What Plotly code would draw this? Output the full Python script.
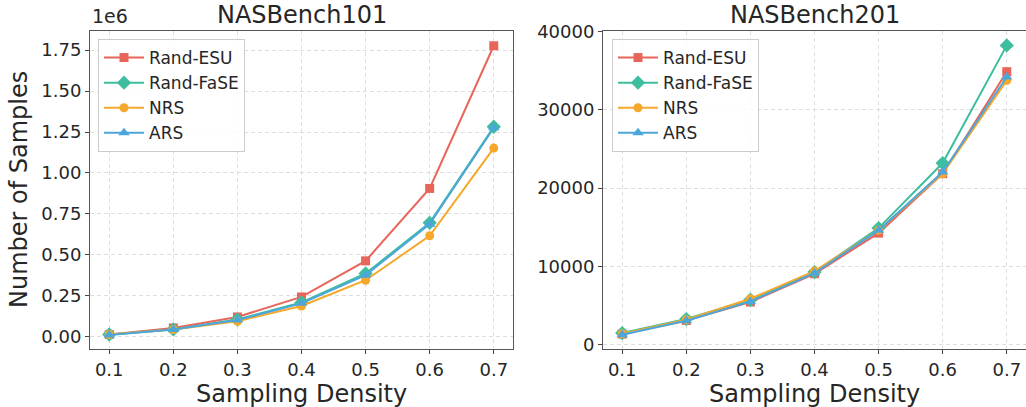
import plotly.graph_objects as go

W, H = 1026, 407

density = [0.1, 0.2, 0.3, 0.4, 0.5, 0.6, 0.7]
series_names = ["Rand-ESU", "Rand-FaSE", "NRS", "ARS"]

# NASBench101 (in units of 1e6)
nb101_esu = [0.015, 0.055, 0.122, 0.244, 0.464, 0.906, 1.776]
nb101_fase = [0.015, 0.046, 0.106, 0.210, 0.387, 0.696, 1.282]
nb101_nrs = [0.015, 0.045, 0.096, 0.189, 0.346, 0.617, 1.152]
nb101_ars = [0.012, 0.045, 0.103, 0.205, 0.377, 0.688, 1.276]

# NASBench201
nb201_esu = [1360, 3100, 5450, 9060, 14250, 21830, 34850]
nb201_fase = [1490, 3280, 5740, 9280, 14890, 23190, 38210]
nb201_nrs = [1400, 3190, 5870, 9400, 14600, 21830, 33740]
nb201_ars = [1280, 3060, 5530, 9150, 14600, 22040, 34170]

y_ticks_101 = [0, 0.25, 0.5, 0.75, 1.0, 1.25, 1.5, 1.75]
y_ticks_201 = [0, 10000, 20000, 30000, 40000]
x_ticks = density

colors = ["#E8655A", "#3DBE9E", "#F5A82A", "#4DA6DB"]
symbols = ["square", "diamond", "circle", "triangle-up"]
msizes = [9, 11, 9, 10]

TXT = "#262626"
FONT = "DejaVu Sans"

fig = go.Figure()

data101 = [nb101_esu, nb101_fase, nb101_nrs, nb101_ars]
data201 = [nb201_esu, nb201_fase, nb201_nrs, nb201_ars]

for i, name in enumerate(series_names):
    fig.add_trace(go.Scatter(
        x=density, y=data101[i], name=name, mode="lines+markers",
        line=dict(color=colors[i], width=2),
        marker=dict(symbol=symbols[i], size=msizes[i], color=colors[i]),
        xaxis="x", yaxis="y", legend="legend"))
for i, name in enumerate(series_names):
    fig.add_trace(go.Scatter(
        x=density, y=data201[i], name=name, mode="lines+markers",
        line=dict(color=colors[i], width=2),
        marker=dict(symbol=symbols[i], size=msizes[i], color=colors[i]),
        xaxis="x2", yaxis="y2", legend="legend2"))

def px_x(p):
    return p / W

def px_y(p):
    return 1 - p / H

ydom = [px_y(349), px_y(31)]

axis_common = dict(
    showline=True, linecolor="#555555", linewidth=1, mirror=True,
    ticks="outside", ticklen=4, tickcolor="#444444",
    tickfont=dict(family=FONT, size=18, color=TXT),
    showgrid=True, gridcolor="#dedede", griddash="4px,3px", gridwidth=1,
    zeroline=False,
)

fig.update_layout(
    width=W, height=H,
    margin=dict(l=0, r=0, t=0, b=0, pad=0),
    paper_bgcolor="white", plot_bgcolor="white",
    font=dict(family=FONT, color=TXT),
    xaxis=dict(domain=[px_x(90), px_x(513)], range=[0.07, 0.73],
               tickvals=x_ticks, ticktext=[f"{v:.1f}" for v in x_ticks],
               anchor="y", automargin=False, **axis_common),
    yaxis=dict(domain=ydom, range=[-0.0735, 1.866],
               tickvals=y_ticks_101, ticktext=[f"{v:.2f}" for v in y_ticks_101],
               anchor="x", automargin=False, **axis_common),
    xaxis2=dict(domain=[px_x(603), 1.0], range=[0.07, 0.73],
                tickvals=x_ticks, ticktext=[f"{v:.1f}" for v in x_ticks],
                anchor="y2", automargin=False, **axis_common),
    yaxis2=dict(domain=ydom, range=[-545, 40045],
                tickvals=y_ticks_201, ticktext=[str(v) for v in y_ticks_201],
                anchor="x2", automargin=False, **axis_common),
    legend=dict(x=px_x(98), y=px_y(39), xanchor="left", yanchor="top",
                bgcolor="rgba(255,255,255,0.85)", bordercolor="#cccccc", borderwidth=1,
                font=dict(family=FONT, size=17, color=TXT),
                itemwidth=40, tracegroupgap=0),
    legend2=dict(x=px_x(612), y=px_y(39), xanchor="left", yanchor="top",
                 bgcolor="rgba(255,255,255,0.85)", bordercolor="#cccccc", borderwidth=1,
                 font=dict(family=FONT, size=17, color=TXT),
                 itemwidth=40, tracegroupgap=0),
    annotations=[
        dict(text="NASBench101", x=px_x(301.5), y=px_y(15), xref="paper", yref="paper",
             showarrow=False, xanchor="center", yanchor="middle",
             font=dict(family=FONT, size=24, color=TXT)),
        dict(text="NASBench201", x=px_x(814.5), y=px_y(15), xref="paper", yref="paper",
             showarrow=False, xanchor="center", yanchor="middle",
             font=dict(family=FONT, size=24, color=TXT)),
        dict(text="Sampling Density", x=px_x(301.5), y=px_y(394), xref="paper", yref="paper",
             showarrow=False, xanchor="center", yanchor="middle",
             font=dict(family=FONT, size=24, color=TXT)),
        dict(text="Sampling Density", x=px_x(814.5), y=px_y(394), xref="paper", yref="paper",
             showarrow=False, xanchor="center", yanchor="middle",
             font=dict(family=FONT, size=24, color=TXT)),
        dict(text="Number of Samples", x=px_x(19), y=px_y(190), xref="paper", yref="paper",
             showarrow=False, xanchor="center", yanchor="middle", textangle=-90,
             font=dict(family=FONT, size=24, color=TXT)),
        dict(text="1e6", x=px_x(90), y=px_y(29), xref="paper", yref="paper",
             showarrow=False, xanchor="left", yanchor="bottom",
             font=dict(family=FONT, size=19, color=TXT)),
    ],
)

fig.write_html(
    "out.html",
    post_script="document.body.style.margin='0';document.body.style.padding='0';"
                "document.documentElement.style.overflow='hidden';",
)
